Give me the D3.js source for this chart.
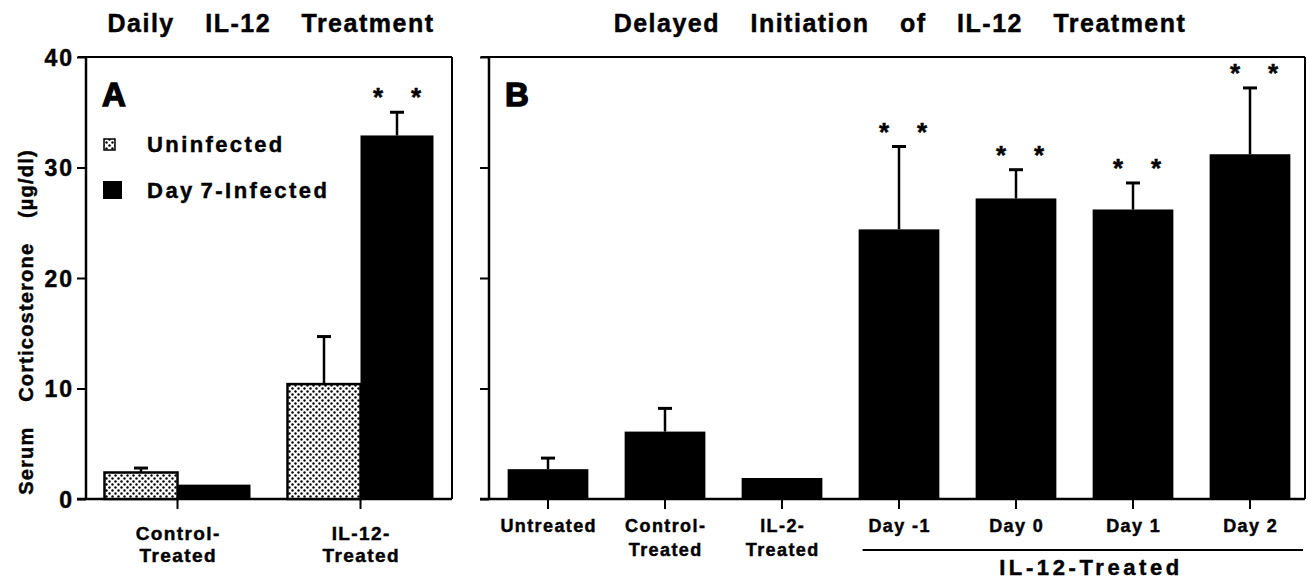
<!DOCTYPE html>
<html><head><meta charset="utf-8">
<script src="https://cdn.jsdelivr.net/npm/d3@7"></script>
<style>
body{margin:0;background:#fff;}
text{font-family:"Liberation Sans",Arial,sans-serif;font-weight:bold;fill:#000;stroke:#000;stroke-width:0.45px;}
</style></head>
<body><svg id="c" width="1307" height="582"></svg>
<script>
// ---- data ----
const groupsA = ["Control-|Treated", "IL-12-|Treated"];
const seriesA = ["Uninfected", "Day 7-Infected"];
const uninfectedMean = [2.4, 10.4];
const uninfectedErr  = [0.4, 4.3];
const infectedMean   = [1.3, 32.9];
const infectedErr    = [0.0, 2.1];
const infectedSig    = [false, true];

const categoriesB = ["Untreated", "Control-|Treated", "IL-2-|Treated", "Day -1", "Day 0", "Day 1", "Day 2"];
const meansB = [2.7, 6.1, 1.9, 24.4, 27.2, 26.2, 31.2];
const errB   = [1.0, 2.1, 0.0, 7.5, 2.6, 2.4, 6.0];
const sigB   = [false, false, false, true, true, true, true];

const yTicks = [0, 10, 20, 30, 40];

// ---- drawing ----
const svg = d3.select("#c");
const defs = svg.append("defs");
const pat = defs.append("pattern").attr("id","dots").attr("patternUnits","userSpaceOnUse")
  .attr("width",6).attr("height",6);
pat.append("rect").attr("width",6).attr("height",6).attr("fill","#fff");
pat.append("circle").attr("cx",1.5).attr("cy",1.5).attr("r",1.2).attr("fill","#000");
pat.append("circle").attr("cx",4.5).attr("cy",4.5).attr("r",1.2).attr("fill","#000");

const y = d3.scaleLinear().domain([0,40]).range([499,57]);

function frame(x0, x1, labels){
  svg.append("line").attr("x1",x0-8).attr("x2",x1).attr("y1",57).attr("y2",57).attr("stroke","#000").attr("stroke-width",2);
  svg.append("line").attr("x1",x1).attr("x2",x1).attr("y1",57).attr("y2",499).attr("stroke","#000").attr("stroke-width",2);
  const ax = d3.axisLeft(y).tickValues(yTicks).tickSize(9).tickFormat(labels ? d3.format("d") : "");
  const g = svg.append("g").attr("transform",`translate(${x0},0)`).call(ax);
  g.attr("font-family",null).attr("font-size",null);
  g.select(".domain").attr("stroke-width",2.5).attr("d",`M0,57V499`);
  g.selectAll(".tick line").attr("stroke-width",2);
  g.selectAll(".tick text").attr("font-size",23).attr("x",-12).attr("dy","0.36em")
    .style("letter-spacing","2px");
  svg.append("line").attr("x1",x0-9).attr("x2",x1).attr("y1",499).attr("y2",499).attr("stroke","#000").attr("stroke-width",2.5);
}

function errBar(cx, top, errTop){
  if (errTop >= top - 0.01) return;
  svg.append("line").attr("x1",cx).attr("x2",cx).attr("y1",top).attr("y2",errTop).attr("stroke","#000").attr("stroke-width",2.5);
  svg.append("line").attr("x1",cx-7).attr("x2",cx+7).attr("y1",errTop).attr("y2",errTop).attr("stroke","#000").attr("stroke-width",3);
}
function stars(cx, capY){
  [-19,19].forEach(dx=>svg.append("text").attr("x",cx+dx).attr("y",capY-6).attr("text-anchor","middle")
    .attr("font-size",26).text("*"));
}
function twoLine(x, ys, lab, fs, ls){
  const t = svg.append("text").attr("text-anchor","middle").attr("font-size",fs).style("letter-spacing",ls+"px");
  lab.split("|").forEach((s,i)=>t.append("tspan").attr("x",x+ls/2).attr("y",ys[i]).text(s));
}

// ---------- Panel A ----------
const xA = d3.scaleBand().domain(groupsA).range([86,452]);
const bw = 73;
frame(86, 452, true);
groupsA.forEach((g,i)=>{
  const cx = xA(g) + xA.bandwidth()/2;
  svg.append("rect").attr("x",cx-bw).attr("y",y(uninfectedMean[i])).attr("width",bw)
    .attr("height",y(0)-y(uninfectedMean[i])).attr("fill","url(#dots)").attr("stroke","#000").attr("stroke-width",2.5);
  errBar(cx-bw/2, y(uninfectedMean[i]), y(uninfectedMean[i]+uninfectedErr[i]));
  svg.append("rect").attr("x",cx).attr("y",y(infectedMean[i])).attr("width",bw)
    .attr("height",y(0)-y(infectedMean[i])).attr("fill","#000");
  errBar(cx+bw/2, y(infectedMean[i]), y(infectedMean[i]+infectedErr[i]));
  if (infectedSig[i]) stars(cx+bw/2, y(infectedMean[i]+infectedErr[i]));
  svg.append("line").attr("x1",cx).attr("x2",cx).attr("y1",499).attr("y2",509).attr("stroke","#000").attr("stroke-width",2);
  twoLine(cx, [540, 562], g, 19, 1.4);
});
// legend
svg.append("rect").attr("x",104).attr("y",139).attr("width",11).attr("height",11).attr("fill","url(#dots)").attr("stroke","#000").attr("stroke-width",1.5);
svg.append("text").attr("x",147).attr("y",152).attr("font-size",22).style("letter-spacing","2.4px").text(seriesA[0]);
svg.append("rect").attr("x",103).attr("y",181).attr("width",19).attr("height",18).attr("fill","#000");
svg.append("text").attr("x",147).attr("y",198).attr("font-size",22).style("letter-spacing","2.5px").style("word-spacing","-3px").text(seriesA[1]);
svg.append("text").attr("x",102).attr("y",106).attr("font-size",33).style("stroke-width","1.4px").text("A");
svg.append("text").attr("x",271).attr("y",32).attr("text-anchor","middle").attr("font-size",25)
  .style("word-spacing","22px").style("letter-spacing","1.5px").text("Daily IL-12 Treatment");
// y label
svg.append("text").attr("transform","translate(33,322) rotate(-90)").attr("text-anchor","middle").attr("font-size",20)
  .style("word-spacing","18px").style("letter-spacing","1.2px").text("Serum Corticosterone (µg/dl)");

// ---------- Panel B ----------
const xB = d3.scaleBand().domain(categoriesB).range([489.5,1308.5]).paddingInner(0.31).paddingOuter(0.155);
frame(489, 1305, false);
categoriesB.forEach((c,i)=>{
  const x0 = xB(c), cx = x0 + xB.bandwidth()/2;
  svg.append("rect").attr("x",x0).attr("y",y(meansB[i])).attr("width",xB.bandwidth())
    .attr("height",y(0)-y(meansB[i])).attr("fill","#000");
  errBar(cx, y(meansB[i]), y(meansB[i]+errB[i]));
  if (sigB[i]) stars(cx+4, y(meansB[i]+errB[i]));
  svg.append("line").attr("x1",cx).attr("x2",cx).attr("y1",499).attr("y2",509).attr("stroke","#000").attr("stroke-width",2);
  twoLine(cx, [532, 556], c, 18, 1.4);
});
const d1 = xB("Day -1");
svg.append("line").attr("x1",d1+4).attr("x2",1303).attr("y1",550).attr("y2",550).attr("stroke","#000").attr("stroke-width",2);
svg.append("text").attr("x",1091).attr("y",575).attr("text-anchor","middle").attr("font-size",22)
  .style("letter-spacing","3.6px").text("IL-12-Treated");
svg.append("text").attr("x",505).attr("y",106).attr("font-size",33).style("stroke-width","1.4px").text("B");
svg.append("text").attr("x",900).attr("y",32).attr("text-anchor","middle").attr("font-size",25)
  .style("word-spacing","22px").style("letter-spacing","1.5px").text("Delayed Initiation of IL-12 Treatment");
</script></body></html>
